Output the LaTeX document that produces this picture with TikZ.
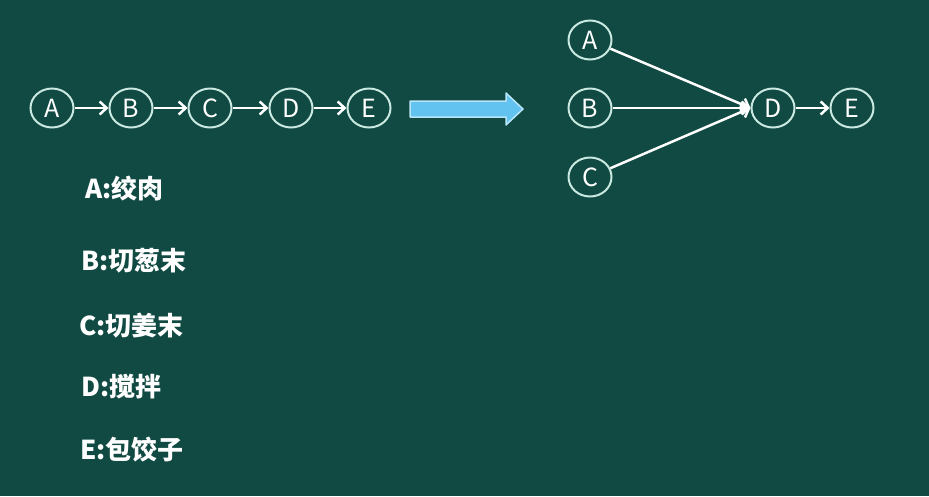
\documentclass[tikz,border=0pt]{standalone}
\usepackage{fontspec}
\newfontfamily\cjk{Noto Sans CJK SC}
\usetikzlibrary{shapes.geometric,arrows.meta}
\definecolor{bg}{RGB}{16,74,66}
\definecolor{ring}{RGB}{200,232,224}
\definecolor{bigfill}{RGB}{98,194,240}
\definecolor{bigedge}{RGB}{185,230,250}
\tikzset{
  task/.style={ellipse,draw=ring,line width=2pt,minimum width=43pt,minimum height=39pt,inner sep=0pt,text=white,font=\cjk\fontsize{25}{25}\selectfont},
  flow/.style={draw=white,line width=2.5pt,-{Straight Barb[length=7pt,width=13pt,line width=2.5pt]}},
  legend/.style={anchor=west,text=white,inner sep=0pt,font=\cjk\bfseries\fontsize{26}{26}\selectfont}
}
\begin{document}
\begin{tikzpicture}[x=1pt,y=-1pt]
\fill[bg] (0,0) rectangle (929,496);
\useasboundingbox (0,0) rectangle (929,496);
% left chain
\node[task] (a1) at (52,108) {A};
\node[task] (b1) at (131,108) {B};
\node[task] (c1) at (210,108) {C};
\node[task] (d1) at (291,108) {D};
\node[task] (e1) at (369,108) {E};
\draw[flow] (a1) -- (b1);
\draw[flow] (b1) -- (c1);
\draw[flow] (c1) -- (d1);
\draw[flow] (d1) -- (e1);
% big arrow
\node[coordinate] (bigarrow) at (410,109) {};
\draw[bigedge,fill=bigfill,line width=1.5pt,line join=round]
  (bigarrow) ++(0,-8) -- ++(96,0) -- ++(0,-8) -- ++(17,16) -- ++(-17,16) -- ++(0,-8) -- ++(-96,0) -- cycle;
% right graph
\node[task] (a2) at (590,40) {A};
\node[task] (b2) at (590,108) {B};
\node[task] (c2) at (590,177) {C};
\node[task] (d2) at (773,108) {D};
\node[task] (e2) at (852,108) {E};
\draw[flow] (a2) -- (d2.west);
\draw[flow] (b2) -- (d2.west);
\draw[flow] (c2) -- (d2.west);
\draw[flow] (d2) -- (e2);
% legend
\node[legend] (la) at (85,189) {A:绞肉};
\node[legend] (lb) at (81,261) {B:切葱末};
\node[legend] (lc) at (79,326) {C:切姜末};
\node[legend] (ld) at (81,387) {D:搅拌};
\node[legend] (le) at (80,450) {E:包饺子};
\end{tikzpicture}
\end{document}
